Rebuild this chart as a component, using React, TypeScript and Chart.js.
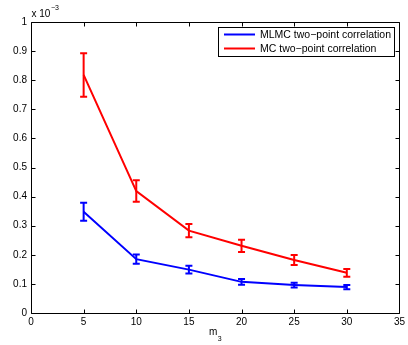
import React, { useEffect, useRef } from "react";
import { Chart, registerables } from "chart.js";

Chart.register(...registerables);

const xValues = [5, 10, 15, 20, 25, 30];
const mlmcValues = [0.348, 0.185, 0.149, 0.107, 0.096, 0.089];
const mlmcErrors = [0.031, 0.016, 0.013, 0.01, 0.008, 0.007];
const mcValues = [0.818, 0.419, 0.283, 0.231, 0.182, 0.138];
const mcErrors = [0.075, 0.037, 0.023, 0.021, 0.017, 0.013];
const seriesLabels = ["MLMC two\u2212point correlation", "MC two\u2212point correlation"];
const xAxisLabel = "m";
const xAxisSub = "3";
const yMultiplierBase = "x 10";
const yMultiplierExp = "\u22123";

const FONT = "'Liberation Sans', Arial, Helvetica, sans-serif";

const errorBarPlugin = {
  id: "errorBars",
  afterDatasetsDraw(chart: any) {
    const ctx = chart.ctx;
    const xs = chart.scales.x;
    const ys = chart.scales.y;
    const errs = [mlmcErrors, mcErrors];
    chart.data.datasets.forEach((ds: any, i: number) => {
      ctx.save();
      ctx.strokeStyle = ds.borderColor;
      ctx.lineWidth = 2;
      ds.data.forEach((p: any, j: number) => {
        const x = xs.getPixelForValue(p.x);
        const yt = ys.getPixelForValue(p.y + errs[i][j]);
        const yb = ys.getPixelForValue(p.y - errs[i][j]);
        ctx.beginPath();
        ctx.moveTo(x, yt);
        ctx.lineTo(x, yb);
        ctx.moveTo(x - 3.5, yt);
        ctx.lineTo(x + 3.5, yt);
        ctx.moveTo(x - 3.5, yb);
        ctx.lineTo(x + 3.5, yb);
        ctx.stroke();
      });
      ctx.restore();
    });
  },
};

const framePlugin = {
  id: "frame",
  afterDraw(chart: any) {
    const ctx = chart.ctx;
    const a = chart.chartArea;
    const xs = chart.scales.x;
    const ys = chart.scales.y;
    ctx.save();
    ctx.strokeStyle = "#000";
    ctx.lineWidth = 1;
    ctx.beginPath();
    const L = Math.round(a.left) + 0.5;
    const R = Math.round(a.right) + 0.5;
    const T = Math.round(a.top) + 0.5;
    const B = Math.round(a.bottom) + 0.5;
    ctx.rect(L, T, R - L, B - T);
    xs.ticks.forEach((t: any) => {
      const x = Math.round(xs.getPixelForValue(t.value)) + 0.5;
      ctx.moveTo(x, B);
      ctx.lineTo(x, B - 4);
      ctx.moveTo(x, T);
      ctx.lineTo(x, T + 4);
    });
    ys.ticks.forEach((t: any) => {
      const y = Math.round(ys.getPixelForValue(t.value)) + 0.5;
      ctx.moveTo(L, y);
      ctx.lineTo(L + 4, y);
      ctx.moveTo(R, y);
      ctx.lineTo(R - 4, y);
    });
    ctx.stroke();

    // multiplier label
    ctx.fillStyle = "#000";
    ctx.textBaseline = "middle";
    ctx.textAlign = "left";
    ctx.font = `10px ${FONT}`;
    ctx.fillText(yMultiplierBase, L, 14);
    const w = ctx.measureText(yMultiplierBase).width;
    ctx.font = `7px ${FONT}`;
    ctx.fillText(yMultiplierExp, L + w + 0.5, 8);

    // x axis title
    ctx.font = `10px ${FONT}`;
    ctx.fillText(xAxisLabel, 209, 332);
    const wm = ctx.measureText(xAxisLabel).width;
    ctx.font = `7px ${FONT}`;
    ctx.fillText(xAxisSub, 209 + wm + 0.5, 339);

    // legend
    const bx = 218.5, by = 27.5, bw = 176, bh = 29;
    ctx.fillStyle = "#fff";
    ctx.fillRect(bx, by, bw, bh);
    ctx.strokeStyle = "#000";
    ctx.lineWidth = 1;
    ctx.strokeRect(bx, by, bw, bh);
    const rowsY = [34.5, 48.5];
    chart.data.datasets.forEach((ds: any, i: number) => {
      ctx.strokeStyle = ds.borderColor;
      ctx.lineWidth = 2;
      ctx.beginPath();
      ctx.moveTo(224, rowsY[i]);
      ctx.lineTo(255, rowsY[i]);
      ctx.stroke();
      ctx.fillStyle = "#000";
      ctx.font = `10.5px ${FONT}`;
      ctx.textBaseline = "middle";
      ctx.fillText(ds.label, 260, rowsY[i] + 0.5);
    });
    ctx.restore();
  },
};

export default function App() {
  const ref = useRef<HTMLCanvasElement | null>(null);
  useEffect(() => {
    if (!ref.current) return;
    const chart = new Chart(ref.current, {
      type: "line",
      data: {
        datasets: [
          {
            label: seriesLabels[0],
            data: xValues.map((x, i) => ({ x, y: mlmcValues[i] })),
            borderColor: "#0000ff",
            backgroundColor: "#0000ff",
            borderWidth: 2,
            pointRadius: 0,
            tension: 0,
          },
          {
            label: seriesLabels[1],
            data: xValues.map((x, i) => ({ x, y: mcValues[i] })),
            borderColor: "#ff0000",
            backgroundColor: "#ff0000",
            borderWidth: 2,
            pointRadius: 0,
            tension: 0,
          },
        ],
      },
      options: {
        animation: false,
        responsive: false,
        layout: { padding: { left: 0, top: 22, right: 7, bottom: 0 } },
        plugins: {
          legend: { display: false },
          tooltip: { enabled: false },
        },
        scales: {
          x: {
            type: "linear",
            min: 0,
            max: 35,
            grid: { display: false, drawTicks: false },
            border: { display: false },
            ticks: {
              stepSize: 5,
              color: "#000",
              font: { family: FONT, size: 10 },
              padding: 3,
              maxRotation: 0,
            },
            afterFit: (s: any) => {
              s.height = 32;
            },
          },
          y: {
            min: 0,
            max: 1,
            grid: { display: false, drawTicks: false },
            border: { display: false },
            ticks: {
              stepSize: 0.1,
              color: "#000",
              font: { family: FONT, size: 10 },
              padding: 4,
              callback: (v: any) => String(Math.round(Number(v) * 10) / 10),
            },
            afterFit: (s: any) => {
              s.width = 31;
            },
          },
        },
      },
      plugins: [errorBarPlugin, framePlugin],
    });
    return () => chart.destroy();
  }, []);
  return (
    <div style={{ position: "fixed", left: 0, top: 0, width: 408, height: 345, background: "#fff" }}>
      <canvas ref={ref} width={408} height={345} style={{ width: 408, height: 345 }} />
    </div>
  );
}
